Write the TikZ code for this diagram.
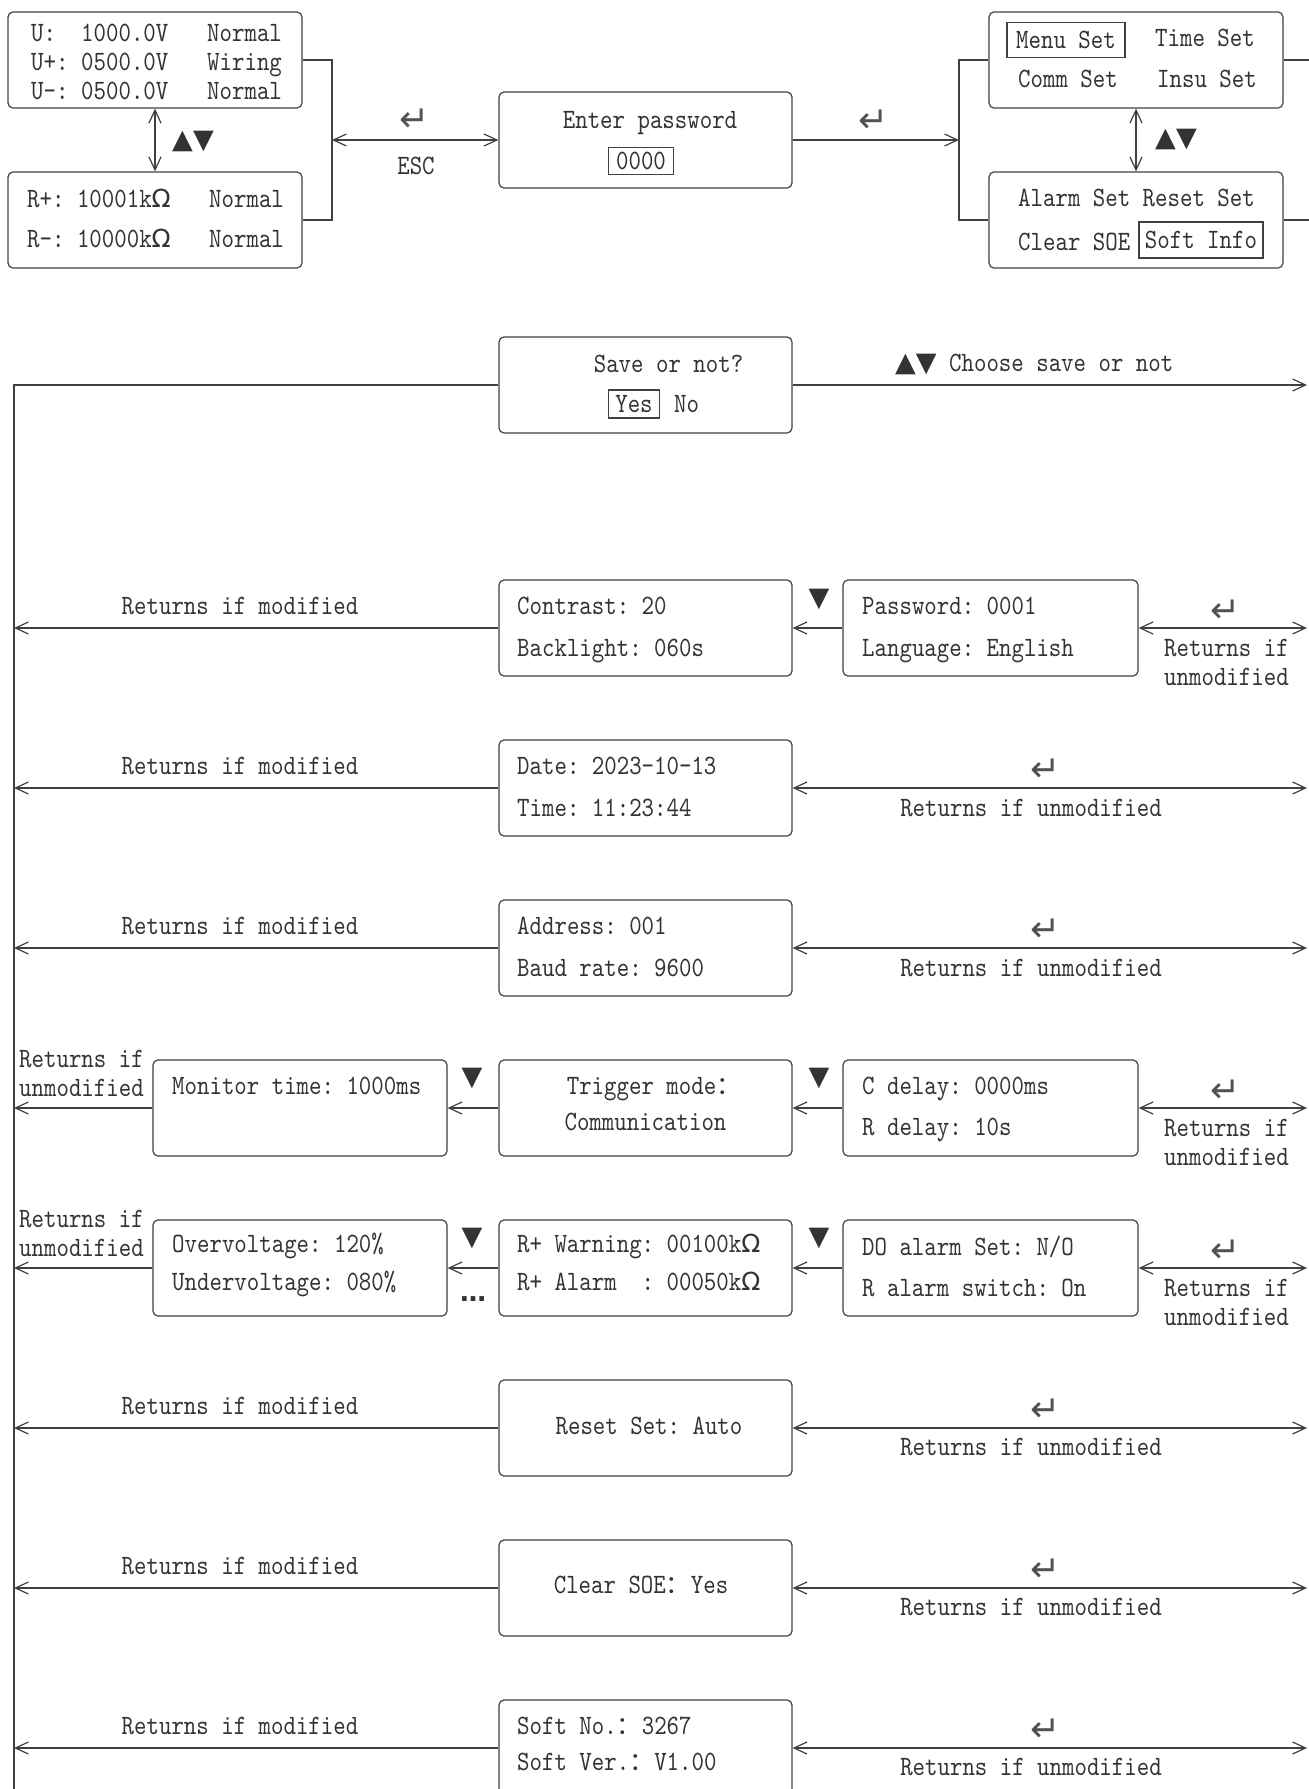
\documentclass[tikz,border=0pt]{standalone}
\usepackage{fontspec}
\newfontfamily\mono{lmmono10-regular}[Extension=.otf, FakeStretch=0.847]
\newfontfamily\symf{DejaVu Sans}
\newfontfamily\cjk{Noto Sans CJK SC}
\usetikzlibrary{arrows.meta}
\definecolor{lnc}{HTML}{404040}
\definecolor{txc}{HTML}{333333}
\newcommand\Om{{\symf\fontsize{25}{25}\selectfont Ω}}
\newcommand\fc{{\cjk\fontsize{25}{25}\selectfont ：}}
\newcommand\ret{{\symf\fontsize{36}{36}\selectfont ↵}}
\newcommand\tri[1]{{\symf\fontsize{27}{27}\selectfont #1}}
\tikzset{
  box/.style={draw=lnc, line width=1.2pt, rounded corners=5pt, minimum width=293pt, minimum height=96pt, inner sep=0pt},
  t/.style={inner sep=0pt, text height=17pt, text depth=0pt, text=txc},
  tw/.style={t, anchor=west},
  rk/.style={t, yshift=-5pt, text=txc!85},
  frm/.style={t, draw=lnc, line width=1.2pt},
  lnk/.style={draw=lnc, line width=1.2pt},
  arr/.style={lnk, -{Straight Barb[length=13pt,width=12pt]}},
  darr/.style={lnk, {Straight Barb[length=13pt,width=12pt]}-{Straight Barb[length=13pt,width=12pt]}},
}
\begin{document}
\begin{tikzpicture}[x=1pt,y=-1pt,font=\mono\frenchspacing\fontsize{28}{30}\selectfont]
\useasboundingbox (0,0) rectangle (1309,1789);
\clip (0,0) rectangle (1309,1789);
% ---------- top row ----------
\node[box, minimum width=294pt] (bu) at (155,60) {};
\node[box, minimum width=294pt] (br) at (155,220) {};
\node[box] (bp) at (645.5,140) {};
\node[box, minimum width=294pt] (bm) at (1136,60) {};
\node[box, minimum width=294pt] (ba) at (1136,220) {};

\node[tw] (u1a) at (31,33) {U:};
\node[tw] (u1b) at (81,33) {1000.0V};
\node[tw] (u1c) at (207,33) {Normal};
\node[tw] (u2a) at (31,62) {U+:};
\node[tw] (u2b) at (81,62) {0500.0V};
\node[tw] (u2c) at (207,62) {Wiring};
\node[tw] (u3a) at (31,91) {U-:};
\node[tw] (u3b) at (81,91) {0500.0V};
\node[tw] (u3c) at (207,91) {Normal};
\node[tw] (r1a) at (27,199) {R+: 10001k\Om};
\node[tw] (r1b) at (209,199) {Normal};
\node[tw] (r2a) at (27,239) {R-: 10000k\Om};
\node[tw] (r2b) at (209,239) {Normal};

\node[t] (pt) at (650,120) {Enter password};
\node[frm, minimum width=65pt, minimum height=27pt] (pw) at (641,161) {0000};

\coordinate (jl) at (332,140);
\draw[lnk] (bu.east) -- (bu.east -| jl) -- (br.east -| jl) -- (br.east);
\draw[darr] (jl) -- (bp.west);
\draw[darr] (bu.south) -- (br.north);
\node[rk] (k1) at (415,118) {\ret};
\node[t] (esc) at (416,166) {ESC};
\node[t] (ud1) at (193,140) {\tri{▲▼}};

\coordinate (jr) at (959,140);
\draw[arr] (bp.east) -- (jr);
\draw[lnk] (bm.west) -- (bm.west -| jr) -- (ba.west -| jr) -- (ba.west);
\node[rk] (k2) at (874,119) {\ret};
\draw[darr] (bm.south) -- (ba.north);
\node[t] (ud2) at (1176,138) {\tri{▲▼}};
\coordinate (em) at (1309,60);
\coordinate (ea) at (1309,220);
\draw[lnk] (bm.east) -- (em);
\draw[lnk] (ba.east) -- (ea);

\node[frm, minimum width=118pt, minimum height=35pt] (ms) at (1066,40) {Menu Set};
\node[tw] (ts) at (1155,38) {Time Set};
\node[tw] (cs) at (1018,79) {Comm Set};
\node[tw] (is) at (1157,79) {Insu Set};
\node[tw] (as) at (1018,198) {Alarm Set Reset Set};
\node[tw] (ce) at (1018,242) {Clear SOE};
\node[frm, minimum width=124pt, minimum height=36pt] (si) at (1201,240) {Soft Info};

% ---------- save ----------
\node[box] (bs) at (645.5,385) {};
\node[t] (sq) at (668.5,364) {Save or not?};
\node[frm, minimum width=51pt, minimum height=28pt] (sy) at (634,404) {Yes};
\node[tw] (sn) at (674,404) {No};
\coordinate (vt) at (14,385);
\coordinate (vb) at (14,1789);
\coordinate (se) at (1307,385);
\draw[lnk] (bs.west) -- (vt) -- (vb);
\draw[arr] (bs.east) -- (se);
\node[tw] (sl) at (895,363) {\tri{▲▼} Choose save or not};

% ---------- row 1 ----------
\node[box] (c1) at (645.5,628) {};
\node[box, minimum width=295pt] (p1) at (990.5,628) {};
\node[tw] (c1a) at (517,606) {Contrast: 20};
\node[tw] (c1b) at (517,648) {Backlight: 060s};
\node[tw] (p1a) at (862,606) {Password: 0001};
\node[tw] (p1b) at (862,648) {Language: English};
\draw[arr] (p1.west) -- (c1.east);
\node[t] (v1) at (819,598) {\tri{▼}};
\coordinate (l1) at (14,628);
\coordinate (e1) at (1307,628);
\draw[arr] (c1.west) -- (l1);
\node[t] (lm1) at (240,606) {Returns if modified};
\draw[darr] (p1.east) -- (e1);
\node[rk] (k3) at (1226,609) {\ret};
\node[tw] (ru1a) at (1164,648) {Returns if};
\node[tw] (ru1b) at (1164,677) {unmodified};

% ---------- row 2 ----------
\node[box] (d2) at (645.5,788) {};
\node[tw] (d2a) at (517,766) {Date: 2023-10-13};
\node[tw] (d2b) at (517,808) {Time: 11:23:44};
\coordinate (l2) at (14,788);
\coordinate (e2) at (1307,788);
\draw[arr] (d2.west) -- (l2);
\node[t] (lm2) at (240,766) {Returns if modified};
\draw[darr] (d2.east) -- (e2);
\node[rk] (k4) at (1046,768) {\ret};
\node[t] (ru2) at (1031,808) {Returns if unmodified};

% ---------- row 3 ----------
\node[box] (a3) at (645.5,948) {};
\node[tw] (a3a) at (517,926) {Address: 001};
\node[tw] (a3b) at (517,968) {Baud rate: 9600};
\coordinate (l3) at (14,948);
\coordinate (e3) at (1307,948);
\draw[arr] (a3.west) -- (l3);
\node[t] (lm3) at (240,926) {Returns if modified};
\draw[darr] (a3.east) -- (e3);
\node[rk] (k5) at (1046,928) {\ret};
\node[t] (ru3) at (1031,968) {Returns if unmodified};

% ---------- row 4 ----------
\node[box, minimum width=294pt] (m4) at (300,1108) {};
\node[box] (t4) at (645.5,1108) {};
\node[box, minimum width=295pt] (c4) at (990.5,1108) {};
\node[tw] (m4a) at (172,1086) {Monitor time: 1000ms};
\node[t] (t4a) at (654,1086) {Trigger mode\fc};
\node[t] (t4b) at (645.5,1122) {Communication};
\node[tw] (c4a) at (862,1086) {C delay: 0000ms};
\node[tw] (c4b) at (862,1127) {R delay: 10s};
\draw[arr] (t4.west) -- (m4.east);
\draw[arr] (c4.west) -- (t4.east);
\node[t] (v2) at (472,1077) {\tri{▼}};
\node[t] (v3) at (819,1077) {\tri{▼}};
\coordinate (l4) at (14,1108);
\coordinate (e4) at (1307,1108);
\draw[arr] (m4.west) -- (l4);
\node[tw] (lu4a) at (19,1059) {Returns if};
\node[tw] (lu4b) at (19,1088) {unmodified};
\draw[darr] (c4.east) -- (e4);
\node[rk] (k6) at (1226,1089) {\ret};
\node[tw] (ru4a) at (1164,1128) {Returns if};
\node[tw] (ru4b) at (1164,1157) {unmodified};

% ---------- row 5 ----------
\node[box, minimum width=294pt] (o5) at (300,1268) {};
\node[box] (w5) at (645.5,1268) {};
\node[box, minimum width=295pt] (d5) at (990.5,1268) {};
\node[tw] (o5a) at (172,1244) {Overvoltage: 120\%};
\node[tw] (o5b) at (172,1282) {Undervoltage: 080\%};
\node[tw] (w5a) at (517,1244) {R+ Warning: 00100k\Om};
\node[tw] (w5b) at (517,1282) {R+ Alarm\ \ : 00050k\Om};
\node[tw] (d5a) at (862,1247) {DO alarm Set: N/O};
\node[tw] (d5b) at (862,1288) {R alarm switch: On};
\draw[arr] (w5.west) -- (o5.east);
\draw[arr] (d5.west) -- (w5.east);
\node[t] (v4) at (472,1237) {\tri{▼}};
\node[t] (v5) at (819,1237) {\tri{▼}};
\node[t] (dots) at (473,1293) {\symf\bfseries\fontsize{26}{26}\selectfont …};
\coordinate (l5) at (14,1268);
\coordinate (e5) at (1307,1268);
\draw[arr] (o5.west) -- (l5);
\node[tw] (lu5a) at (19,1219) {Returns if};
\node[tw] (lu5b) at (19,1248) {unmodified};
\draw[darr] (d5.east) -- (e5);
\node[rk] (k7) at (1226,1249) {\ret};
\node[tw] (ru5a) at (1164,1288) {Returns if};
\node[tw] (ru5b) at (1164,1317) {unmodified};

% ---------- row 6 ----------
\node[box] (s6) at (645.5,1428) {};
\node[t] (s6a) at (649,1426) {Reset Set: Auto};
\coordinate (l6) at (14,1428);
\coordinate (e6) at (1307,1428);
\draw[arr] (s6.west) -- (l6);
\node[t] (lm6) at (240,1406) {Returns if modified};
\draw[darr] (s6.east) -- (e6);
\node[rk] (k8) at (1046,1408) {\ret};
\node[t] (ru6) at (1031,1447) {Returns if unmodified};

% ---------- row 7 ----------
\node[box] (s7) at (645.5,1588) {};
\node[t] (s7a) at (641,1585) {Clear SOE\fc Yes};
\coordinate (l7) at (14,1588);
\coordinate (e7) at (1307,1588);
\draw[arr] (s7.west) -- (l7);
\node[t] (lm7) at (240,1566) {Returns if modified};
\draw[darr] (s7.east) -- (e7);
\node[rk] (k9) at (1046,1568) {\ret};
\node[t] (ru7) at (1031,1607) {Returns if unmodified};

% ---------- row 8 ----------
\node[box] (s8) at (645.5,1748) {};
\node[tw] (s8a) at (517,1726) {Soft No.\fc 3267};
\node[tw] (s8b) at (517,1762) {Soft Ver.\fc V1.00};
\coordinate (l8) at (14,1748);
\coordinate (e8) at (1307,1748);
\draw[arr] (s8.west) -- (l8);
\node[t] (lm8) at (240,1726) {Returns if modified};
\draw[darr] (s8.east) -- (e8);
\node[rk] (k10) at (1046,1728) {\ret};
\node[t] (ru8) at (1031,1767) {Returns if unmodified};
\end{tikzpicture}
\end{document}
